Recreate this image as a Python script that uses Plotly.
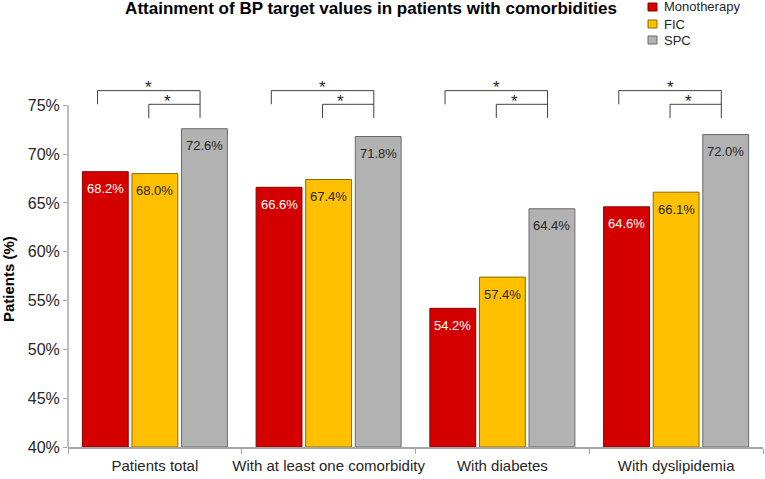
import plotly.graph_objects as go

categories = ["Patients total", "With at least one comorbidity", "With diabetes", "With dyslipidemia"]
series_names = ["Monotherapy", "FIC", "SPC"]
monotherapy = [68.2, 66.6, 54.2, 64.6]
fic = [68.0, 67.4, 57.4, 66.1]
spc = [72.6, 71.8, 64.4, 72.0]
y_ticks = [40, 45, 50, 55, 60, 65, 70, 75]
y_tick_labels = ["40%", "45%", "50%", "55%", "60%", "65%", "70%", "75%"]
significance_label = "*"

FONT = "Liberation Sans, Arial, sans-serif"
fill_colors = ["#D40000", "#FFC000", "#B2B2B2"]
line_colors = ["#8a0000", "#8c6a00", "#6a6a6a"]
text_colors = ["#ffffff", "#262626", "#262626"]
values = [monotherapy, fic, spc]

W, H = 765, 479
ML, MR, MT, MB = 68, 2, 76, 32
PW, PH = W - ML - MR, H - MT - MB


def px_x(px):
    return (px - ML) / PW


def px_y(py):
    return (H - MB - py) / PH


BARGAP = 0.144
slot = (1 - BARGAP) / 3
offsets = [-slot, 0.0, slot]

fig = go.Figure()
for name, vals, fc, lc in zip(series_names, values, fill_colors, line_colors):
    fig.add_trace(go.Bar(
        name=name, x=categories, y=[v - 40 for v in vals], base=40,
        marker=dict(color=fc, line=dict(color=lc, width=1)),
        hoverinfo="skip", showlegend=False,
    ))

annotations = []
for s, (vals, tc) in enumerate(zip(values, text_colors)):
    for i, v in enumerate(vals):
        annotations.append(dict(
            x=i + offsets[s], y=v, xref="x", yref="y",
            text=f"{v:.1f}%", showarrow=False, yanchor="middle", yshift=-17,
            font=dict(family=FONT, size=13, color=tc),
        ))

shapes = []
br_color = "#404040"
for i in range(len(categories)):
    left_o = i - 0.33
    right = i + 0.26
    left_i = i - 0.035
    top_o, leg_o, top_i, leg_i = 76.5, 75.1, 75.1, 73.7
    shapes.append(dict(type="path", xref="x", yref="y",
                       path=f"M {left_o} {leg_o} L {left_o} {top_o} L {right} {top_o} L {right} {leg_i}",
                       line=dict(color=br_color, width=1)))
    shapes.append(dict(type="path", xref="x", yref="y",
                       path=f"M {left_i} {leg_i} L {left_i} {top_i} L {right} {top_i}",
                       line=dict(color=br_color, width=1)))
    annotations.append(dict(x=i - 0.035, y=top_o, xref="x", yref="y", text=significance_label,
                            showarrow=False, yanchor="middle", yshift=3,
                            font=dict(family=FONT, size=17, color="#262626")))
    annotations.append(dict(x=i + 0.07, y=top_i, xref="x", yref="y", text=significance_label,
                            showarrow=False, yanchor="middle", yshift=3,
                            font=dict(family=FONT, size=17, color="#262626")))

# y axis line only up to 75%
shapes.append(dict(type="line", xref="paper", yref="y", x0=0, x1=0, y0=40, y1=75,
                   line=dict(color="#a6a6a6", width=1.5)))

# legend (drawn manually to match the compact spacing)
legend_rows = [7, 24, 40]
for name, fc, lc, cy in zip(series_names, fill_colors, line_colors, legend_rows):
    shapes.append(dict(type="rect", xref="paper", yref="paper",
                       x0=px_x(648), x1=px_x(657), y0=px_y(cy + 4), y1=px_y(cy - 4),
                       fillcolor=fc, line=dict(color=lc, width=1)))
    annotations.append(dict(x=px_x(662), y=px_y(cy), xref="paper", yref="paper",
                            text=name, showarrow=False, xanchor="left", yanchor="middle",
                            font=dict(family=FONT, size=13, color="#262626")))

# y axis title
annotations.append(dict(x=px_x(8), y=px_y(279), xref="paper", yref="paper",
                        text="<b>Patients (%)</b>", textangle=-90, showarrow=False,
                        xanchor="center", yanchor="middle",
                        font=dict(family=FONT, size=15, color="#000000")))

fig.update_layout(
    width=W, height=H,
    margin=dict(l=ML, r=MR, t=MT, b=MB),
    paper_bgcolor="white", plot_bgcolor="white",
    barmode="group", bargap=BARGAP, bargroupgap=0.075,
    showlegend=False,
    title=dict(text="<b>Attainment of BP target values in patients with comorbidities</b>",
               x=0.485, xref="container", xanchor="center",
               y=1 - 8 / H, yref="container", yanchor="middle",
               font=dict(family=FONT, size=17, color="#000000")),
    xaxis=dict(type="category", range=[-0.5, 3.5], showline=True, linecolor="#a6a6a6", linewidth=1.5,
               ticks="outside", tickson="boundaries", ticklen=5, tickcolor="#a6a6a6",
               showgrid=False, zeroline=False, ticklabelstandoff=4, tickangle=0, automargin=False,
               tickfont=dict(family=FONT, size=15, color="#262626")),
    yaxis=dict(range=[40, 78], tickvals=y_ticks, ticktext=y_tick_labels, showline=False,
               ticks="outside", ticklen=4, tickcolor="#a6a6a6", showgrid=False, zeroline=False,
               automargin=False,
               tickfont=dict(family=FONT, size=16, color="#262626")),
    annotations=annotations,
    shapes=shapes,
)

fig.write_html("out.html",
               config={"displayModeBar": False, "staticPlot": True},
               post_script="document.body.style.margin='0';document.body.style.overflow='hidden';")
